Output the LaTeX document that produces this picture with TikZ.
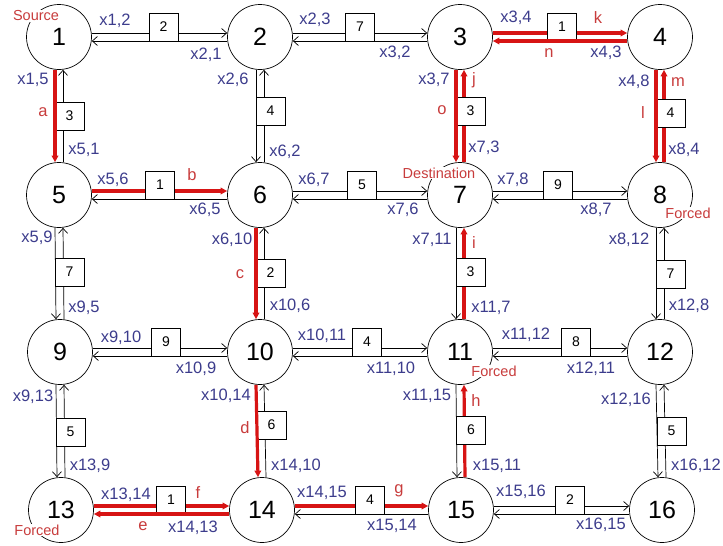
\documentclass[tikz,border=0pt]{standalone}
\usepackage{fontspec}
\setmainfont{Liberation Sans}
\usetikzlibrary{arrows.meta}
\definecolor{lblblue}{RGB}{60,60,140}
\definecolor{pathred}{RGB}{215,20,20}
\definecolor{txtred}{RGB}{200,60,60}
\begin{document}
\begin{tikzpicture}[x=1pt,y=1pt,
  vertex/.style={circle,draw,line width=0.7pt,minimum size=65pt,inner sep=0pt,font=\fontsize{25}{25}\selectfont},
  wbox/.style={draw,fill=white,line width=0.7pt,minimum width=29pt,minimum height=28pt,inner sep=0pt,font=\fontsize{14}{14}\selectfont},
  lbl/.style={text=lblblue,inner sep=0pt,font=\fontsize{16.5}{16.5}\selectfont},
  rlbl/.style={text=txtred,inner sep=0pt,font=\fontsize{16.5}{16.5}\selectfont},
  tag/.style={text=txtred,fill=white,inner sep=0.6pt,font=\fontsize{14.5}{14.5}\selectfont},
  blk/.style={line width=0.7pt,-{Straight Barb[length=5pt,width=9pt]}},
  redpath/.style={draw=pathred,line width=3.2pt,-{Triangle[length=6.5pt,width=6.5pt]}}
]
\useasboundingbox (0,0) rectangle (723,-546);
% vertices
\node[vertex] (n1) at (59,-37) {1};
\node[vertex] (n2) at (260,-37) {2};
\node[vertex] (n3) at (460,-37) {3};
\node[vertex] (n4) at (660,-37) {4};
\node[vertex] (n5) at (59,-195) {5};
\node[vertex] (n6) at (260,-195) {6};
\node[vertex] (n7) at (460,-195) {7};
\node[vertex] (n8) at (660,-195) {8};
\node[vertex] (n9) at (60,-352) {9};
\node[vertex] (n10) at (260,-352) {10};
\node[vertex] (n11) at (460,-352) {11};
\node[vertex] (n12) at (660,-352) {12};
\node[vertex] (n13) at (61,-510) {13};
\node[vertex] (n14) at (262,-510) {14};
\node[vertex] (n15) at (461,-510) {15};
\node[vertex] (n16) at (662,-510) {16};
% black upper lines (left -> right)
\foreach \a/\b in {1/2,2/3,6/7,7/8,9/10,10/11,11/12,15/16}
  \draw[blk] ([yshift=4pt]n\a.east) -- ([yshift=4pt]n\b.west);
% black lower lines (right -> left)
\foreach \a/\b in {1/2,2/3,5/6,6/7,7/8,9/10,10/11,11/12,14/15,15/16}
  \draw[blk] ([yshift=-4pt]n\b.west) -- ([yshift=-4pt]n\a.east);
% black left lines (top -> bottom)
\foreach \a/\b in {5/9,9/13,2/6,7/11,11/15,8/12,12/16}
  \draw[blk] ([xshift=-4pt]n\a.south) -- ([xshift=-4pt]n\b.north);
% black right lines (bottom -> top)
\foreach \a/\b in {1/5,5/9,9/13,2/6,6/10,10/14,8/12,12/16}
  \draw[blk] ([xshift=4pt]n\b.north) -- ([xshift=4pt]n\a.south);
% red upper lines
\foreach \a/\b in {5/6,13/14,14/15,3/4}
  \draw[redpath] ([yshift=4pt]n\a.east) -- ([yshift=4pt]n\b.west);
% red right lines
\foreach \a/\b in {11/15,7/11,3/7,4/8}
  \draw[redpath] ([xshift=4pt]n\b.north) -- ([xshift=4pt]n\a.south);
% weight boxes
\node[wbox] (w1-2) at (163.5,-27) {2};
\node[wbox] (w2-3) at (360,-27) {7};
\node[wbox] (w3-4) at (562,-27) {1};
\node[wbox] (w5-6) at (160,-185) {1};
\node[wbox] (w6-7) at (362,-185) {5};
\node[wbox] (w7-8) at (558,-185) {9};
\node[wbox] (w9-10) at (166,-342) {9};
\node[wbox] (w10-11) at (367,-342) {4};
\node[wbox] (w11-12) at (576,-342) {8};
\node[wbox] (w13-14) at (171,-500) {1};
\node[wbox] (w14-15) at (370,-500) {4};
\node[wbox] (w15-16) at (570,-500) {2};
\node[wbox] (w1-5) at (69.5,-116) {3};
\node[wbox] (w5-9) at (69.5,-272) {7};
\node[wbox] (w9-13) at (70.5,-432) {5};
\node[wbox] (w2-6) at (270.5,-111) {4};
\node[wbox] (w6-10) at (270.5,-273) {2};
\node[wbox] (w10-14) at (271.5,-425) {6};
\node[wbox] (w3-7) at (470.5,-111) {3};
\node[wbox] (w7-11) at (470.5,-272) {3};
\node[wbox] (w11-15) at (471,-430) {6};
\node[wbox] (w4-8) at (670.5,-113) {4};
\node[wbox] (w8-12) at (670.5,-274) {7};
\node[wbox] (w12-16) at (671.5,-431) {5};
% red lower lines
\foreach \a/\b in {13/14,3/4}
  \draw[redpath] ([yshift=-4pt]n\b.west) -- ([yshift=-4pt]n\a.east);
% red left lines
\foreach \a/\b in {1/5,6/10,10/14,3/7,4/8}
  \draw[redpath] ([xshift=-4pt]n\a.south) -- ([xshift=-4pt]n\b.north);
% variable labels, horizontal edges
\node[lbl] (l1-2) at (115,-21) {x1,2};
\node[lbl] (l2-1) at (206,-55) {x2,1};
\node[lbl] (l2-3) at (315,-20) {x2,3};
\node[lbl] (l3-2) at (395,-53) {x3,2};
\node[lbl] (l3-4) at (516,-18) {x3,4};
\node[lbl] (l4-3) at (606,-53) {x4,3};
\node[lbl] (l5-6) at (113,-180) {x5,6};
\node[lbl] (l6-5) at (205,-210) {x6,5};
\node[lbl] (l6-7) at (314,-180) {x6,7};
\node[lbl] (l7-6) at (403,-210) {x7,6};
\node[lbl] (l7-8) at (513,-180) {x7,8};
\node[lbl] (l8-7) at (596,-210) {x8,7};
\node[lbl] (l9-10) at (121,-338) {x9,10};
\node[lbl] (l10-9) at (196,-369) {x10,9};
\node[lbl] (l10-11) at (322,-336) {x10,11};
\node[lbl] (l11-10) at (391,-369) {x11,10};
\node[lbl] (l11-12) at (526,-335) {x11,12};
\node[lbl] (l12-11) at (591,-369) {x12,11};
\node[lbl] (l13-14) at (126,-495) {x13,14};
\node[lbl] (l14-13) at (193,-528) {x14,13};
\node[lbl] (l14-15) at (322,-493) {x14,15};
\node[lbl] (l15-14) at (392,-526) {x15,14};
\node[lbl] (l15-16) at (521,-492) {x15,16};
\node[lbl] (l16-15) at (601,-525) {x16,15};
% variable labels, vertical edges
\node[lbl] (l1-5) at (33,-80) {x1,5};
\node[lbl] (l5-1) at (84,-150) {x5,1};
\node[lbl] (l5-9) at (37,-238) {x5,9};
\node[lbl] (l9-5) at (84,-308) {x9,5};
\node[lbl] (l9-13) at (33,-397) {x9,13};
\node[lbl] (l13-9) at (90,-466) {x13,9};
\node[lbl] (l2-6) at (233,-80) {x2,6};
\node[lbl] (l6-2) at (285,-152) {x6,2};
\node[lbl] (l6-10) at (232,-240) {x6,10};
\node[lbl] (l10-6) at (290,-306) {x10,6};
\node[lbl] (l10-14) at (226,-396) {x10,14};
\node[lbl] (l14-10) at (296,-466) {x14,10};
\node[lbl] (l3-7) at (434,-80) {x3,7};
\node[lbl] (l7-3) at (484,-148) {x7,3};
\node[lbl] (l7-11) at (432,-240) {x7,11};
\node[lbl] (l11-7) at (491,-308) {x11,7};
\node[lbl] (l11-15) at (427,-396) {x11,15};
\node[lbl] (l15-11) at (497,-466) {x15,11};
\node[lbl] (l4-8) at (634,-82) {x4,8};
\node[lbl] (l8-4) at (684,-150) {x8,4};
\node[lbl] (l8-12) at (629,-240) {x8,12};
\node[lbl] (l12-8) at (689,-306) {x12,8};
\node[lbl] (l12-16) at (626,-400) {x12,16};
\node[lbl] (l16-12) at (696,-466) {x16,12};
% path letters
\node[rlbl] (pa) at (43,-112) {a};
\node[rlbl] (pb) at (192,-175) {b};
\node[rlbl] (pc) at (240,-274) {c};
\node[rlbl] (pd) at (245,-428) {d};
\node[rlbl] (pe) at (143,-526) {e};
\node[rlbl] (pf) at (198,-493) {f};
\node[rlbl] (pg) at (399,-491) {g};
\node[rlbl] (ph) at (476,-401) {h};
\node[rlbl] (pi) at (474,-243) {i};
\node[rlbl] (pj) at (474,-80) {j};
\node[rlbl] (pk) at (598,-18) {k};
\node[rlbl] (pl) at (643,-113) {l};
\node[rlbl] (pm) at (678,-82) {m};
\node[rlbl] (pn) at (549,-53) {n};
\node[rlbl] (po) at (442,-110) {o};
% tags
\node[tag] (tsrc) at (36,-16) {Source};
\node[tag] (tdst) at (439,-173) {Destination};
\node[tag] (tf8) at (688,-213) {Forced};
\node[tag] (tf11) at (494,-371) {Forced};
\node[tag] (tf13) at (37,-530) {Forced};
\end{tikzpicture}
\end{document}
